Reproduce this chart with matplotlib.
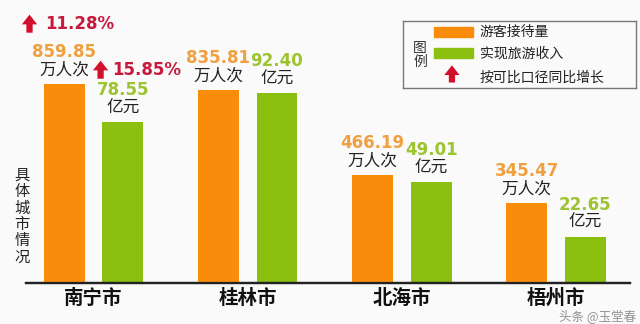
import matplotlib
matplotlib.use('Agg')
import matplotlib.pyplot as plt
from matplotlib.transforms import offset_copy
from matplotlib.patches import Rectangle
import numpy as np

plt.rcParams['font.family'] = ['Noto Sans CJK SC', 'DejaVu Sans']

# data
cities = ['南宁市', '桂林市', '北海市', '梧州市']
visitors = [859.85, 835.81, 466.19, 345.47]      # 万人次
income = [78.55, 92.40, 49.01, 22.65]            # 亿元
visitors_growth = [11.28, None, None, None]      # %
income_growth = [15.85, None, None, None]        # %

orange = '#f98c0a'
green = '#8cc010'
orange_txt = '#f0a040'
green_txt = '#9cc430'
red = '#d3102c'
red_txt = '#c8193c'
bg = '#fafafa'
arrow_style = 'simple,head_width=1.1,head_length=0.7,tail_width=0.45'

fig = plt.figure(figsize=(6.4, 3.24), dpi=100, facecolor=bg)
ax = fig.add_axes([26/640, 41/324, 604/640, 273/324])
ax2 = ax.twinx()
for a in (ax, ax2):
    a.set_facecolor('none')
    for s in ['top', 'left', 'right']:
        a.spines[s].set_visible(False)
    a.spines['bottom'].set_linewidth(1.6)
    a.spines['bottom'].set_color('#222222')
    a.set_yticks([])
ax.set_zorder(1)

x = np.arange(len(cities))
w = 0.265
off = 0.19
ax.bar(x - off, visitors, width=w, color=orange)
ax2.bar(x + off, income, width=w, color=green)
ax.set_xlim(-0.438, 3.48)
ax2.set_xlim(-0.438, 3.48)
ax.set_ylim(0, 1180)
ax2.set_ylim(0, 133)

ax.set_xticks(x)
ax.set_xticklabels(cities, fontsize=14, fontweight='bold', color='#111111')
ax.tick_params(axis='x', length=0, pad=4)
ax2.tick_params(axis='x', length=0, labelbottom=False)


def labels(a, xs, vals, unit, col):
    for xi, v in zip(xs, vals):
        a.annotate(f'{v:.2f}', (xi, v), xytext=(0, 23), textcoords='offset points',
                   ha='center', va='center', fontsize=12, fontweight='bold',
                   color=col, family='DejaVu Sans')
        a.annotate(unit, (xi, v), xytext=(0, 10), textcoords='offset points',
                   ha='center', va='center', fontsize=12, color='#222222')


def growth(a, xs, vals, gs, dx_arrow, dx_text, dy):
    for xi, v, g in zip(xs, vals, gs):
        if g is None:
            continue
        head = offset_copy(a.transData, fig=fig, x=dx_arrow, y=dy + 9, units='points')
        tail = offset_copy(a.transData, fig=fig, x=dx_arrow, y=dy - 8, units='points')
        a.annotate('', xy=(xi, v), xycoords=head, xytext=(xi, v), textcoords=tail,
                   arrowprops=dict(arrowstyle=arrow_style, color=red, lw=0))
        a.annotate(f'{g:.2f}%', (xi, v), xytext=(dx_text, dy), textcoords='offset points',
                   ha='left', va='center', fontsize=12, fontweight='bold',
                   color=red_txt, family='DejaVu Sans')


labels(ax, x - off, visitors, '万人次', orange_txt)
labels(ax2, x + off, income, '亿元', green_txt)
growth(ax, x - off, visitors, visitors_growth, -25, -14, 43)
growth(ax2, x + off, income, income_growth, -16, -8, 37)

# vertical side label
fig.text(22/640, 1 - 216/324, '\n'.join('具体城市情况'), ha='center', va='center',
         fontsize=11, linespacing=0.95, color='#222222')

# legend box
lg = fig.add_axes([403/640, 1 - 88/324, 233/640, 67/324])
lg.set_xlim(0, 1)
lg.set_ylim(0, 1)
lg.set_xticks([])
lg.set_yticks([])
lg.set_facecolor('none')
for s in lg.spines.values():
    s.set_color('#777777')
    s.set_linewidth(1.0)
lg.text(0.073, 0.49, '图\n例', ha='center', va='center', fontsize=10,
        linespacing=1.0, color='#333333')
lg.add_patch(Rectangle((0.133, 0.76), 0.167, 0.15, color=orange))
lg.add_patch(Rectangle((0.133, 0.45), 0.167, 0.15, color=green))
lg.annotate('', xy=(0.21, 0.38), xytext=(0.21, 0.04),
            arrowprops=dict(arrowstyle=arrow_style, color=red, lw=0))
legend_items = ['游客接待量', '实现旅游收入', '按可比口径同比增长']
for txt, yy in zip(legend_items, [0.84, 0.52, 0.15]):
    lg.text(0.33, yy, txt, ha='left', va='center', fontsize=10, color='#222222')

# watermark
fig.text(636/640, 1 - 316/324, '头条 @玉堂春', ha='right', va='center',
         fontsize=9, color='#666666', alpha=0.7)

fig.savefig('out.png', dpi=100, facecolor=bg)
